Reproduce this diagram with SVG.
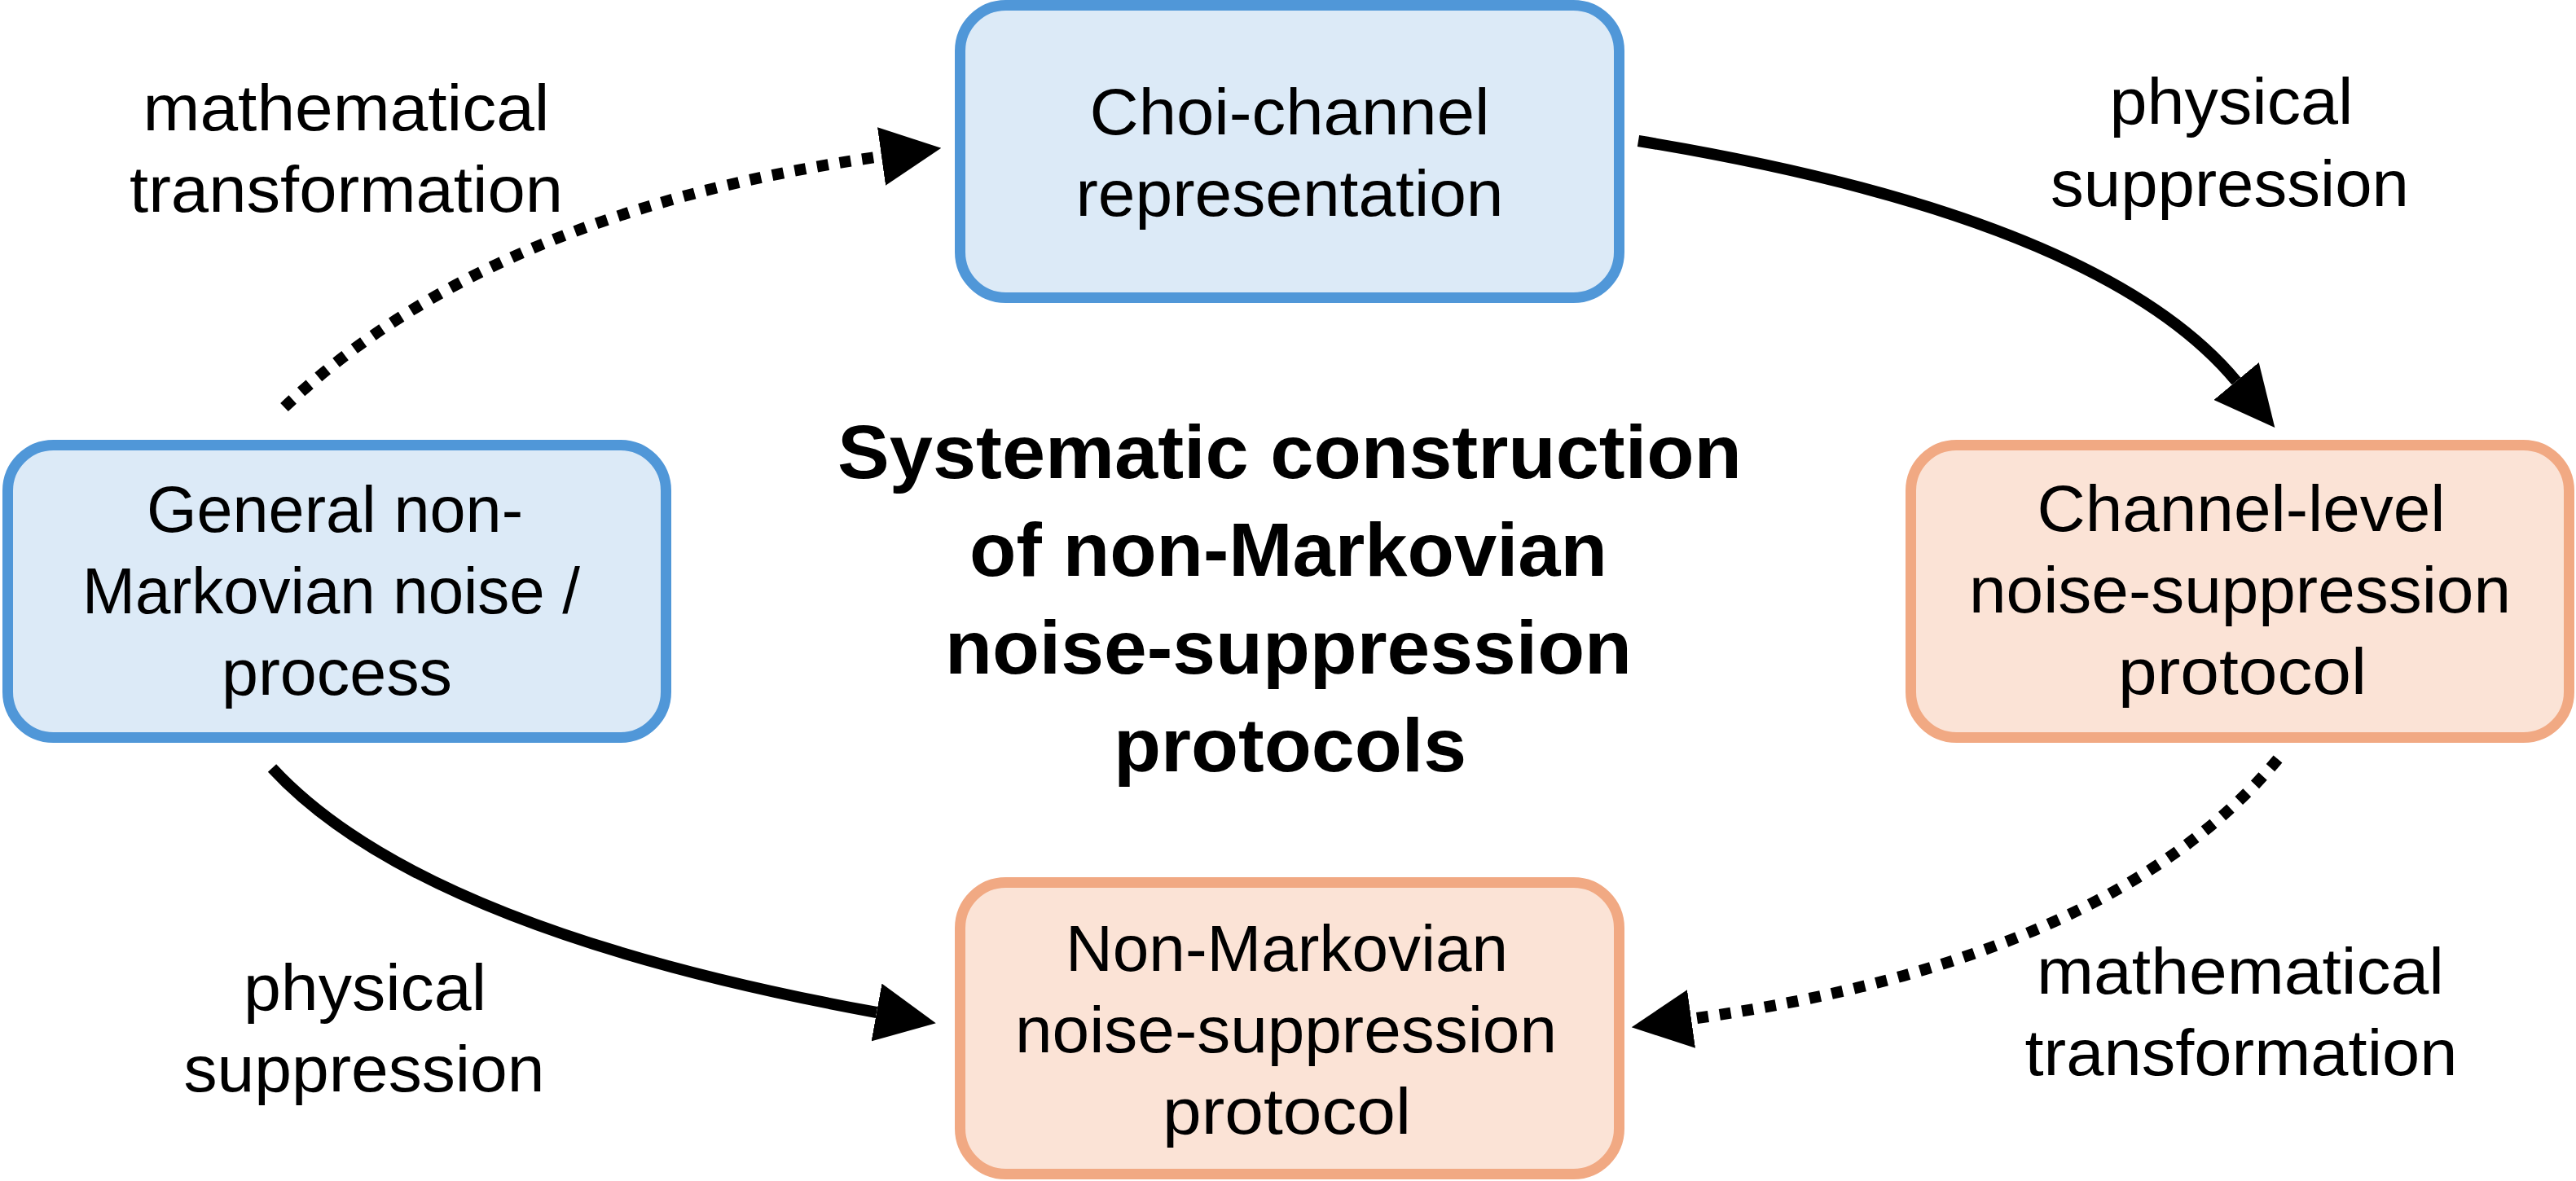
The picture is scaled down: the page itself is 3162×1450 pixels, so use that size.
<svg xmlns="http://www.w3.org/2000/svg" width="3162" height="1450" viewBox="0 0 3162 1450">
<style>
.t{font-family:"Liberation Sans",Arial,sans-serif;font-size:80px;fill:#000;text-anchor:middle}
.title{font-family:"Liberation Sans",Arial,sans-serif;font-size:92px;font-weight:bold;fill:#000;text-anchor:middle}
.blue{fill:#DCEAF7;stroke:#5097D8;stroke-width:13}
.orange{fill:#FBE3D6;stroke:#F1A983;stroke-width:13}
.conn{fill:none;stroke:#000;stroke-width:14;stroke-linecap:butt}
.dot{stroke-dasharray:14 14}
</style>
<defs>
<marker id="ah" viewBox="0 -36 74 72" refX="0" refY="0" markerWidth="74" markerHeight="72" markerUnits="userSpaceOnUse" orient="auto">
<path d="M0,-36 L74,0 L0,36 Z" fill="#000"/>
</marker>
</defs>
<rect width="3162" height="1450" fill="#fff"/>
<g id="connectors">
<path class="conn dot" d="M349,500 Q603,259 1082,192" marker-end="url(#ah)"/>
<path class="conn" d="M2011,173 Q2577,266 2745,468" marker-end="url(#ah)"/>
<path class="conn dot" d="M2796,932 Q2590,1179 2076,1251" marker-end="url(#ah)"/>
<path class="conn" d="M334,943 Q517,1141 1076,1243" marker-end="url(#ah)"/>
</g>
<g id="node-choi">
<rect class="blue" x="1178.5" y="6.5" width="809" height="359" rx="56"/>
<text class="t" x="1583" y="165" textLength="491" lengthAdjust="spacingAndGlyphs">Choi-channel</text>
<text class="t" x="1583" y="265" textLength="525" lengthAdjust="spacingAndGlyphs">representation</text>
</g>
<g id="node-general">
<rect class="blue" x="9.5" y="546.5" width="808" height="359" rx="56"/>
<text class="t" x="411" y="653" textLength="462" lengthAdjust="spacingAndGlyphs">General non-</text>
<text class="t" x="406.5" y="753" textLength="611" lengthAdjust="spacingAndGlyphs">Markovian noise /</text>
<text class="t" x="413.5" y="853" textLength="283" lengthAdjust="spacingAndGlyphs">process</text>
</g>
<g id="node-channel-level">
<rect class="orange" x="2345.5" y="546.5" width="808" height="359" rx="56"/>
<text class="t" x="2751" y="652" textLength="501" lengthAdjust="spacingAndGlyphs">Channel-level</text>
<text class="t" x="2749.5" y="752" textLength="665" lengthAdjust="spacingAndGlyphs">noise-suppression</text>
<text class="t" x="2752.5" y="852" textLength="305" lengthAdjust="spacingAndGlyphs">protocol</text>
</g>
<g id="node-nonmarkovian">
<rect class="orange" x="1178.5" y="1083.5" width="809" height="358" rx="56"/>
<text class="t" x="1579.5" y="1192" textLength="543" lengthAdjust="spacingAndGlyphs">Non-Markovian</text>
<text class="t" x="1578.5" y="1292" textLength="665" lengthAdjust="spacingAndGlyphs">noise-suppression</text>
<text class="t" x="1579.5" y="1392" textLength="305" lengthAdjust="spacingAndGlyphs">protocol</text>
</g>
<g id="title">
<text class="title" x="1583" y="587" textLength="1110" lengthAdjust="spacingAndGlyphs">Systematic construction</text>
<text class="title" x="1581.5" y="707" textLength="783" lengthAdjust="spacingAndGlyphs">of non-Markovian</text>
<text class="title" x="1581.5" y="827" textLength="843" lengthAdjust="spacingAndGlyphs">noise-suppression</text>
<text class="title" x="1583.5" y="947" textLength="433" lengthAdjust="spacingAndGlyphs">protocols</text>
</g>
<g id="labels">
<text class="t" x="425" y="160" textLength="499" lengthAdjust="spacingAndGlyphs">mathematical</text>
<text class="t" x="425" y="260" textLength="532" lengthAdjust="spacingAndGlyphs">transformation</text>
<text class="t" x="2739" y="152" textLength="299" lengthAdjust="spacingAndGlyphs">physical</text>
<text class="t" x="2737" y="253" textLength="440" lengthAdjust="spacingAndGlyphs">suppression</text>
<text class="t" x="448" y="1240" textLength="298" lengthAdjust="spacingAndGlyphs">physical</text>
<text class="t" x="447" y="1340" textLength="443" lengthAdjust="spacingAndGlyphs">suppression</text>
<text class="t" x="2750" y="1220" textLength="500" lengthAdjust="spacingAndGlyphs">mathematical</text>
<text class="t" x="2751" y="1320" textLength="531" lengthAdjust="spacingAndGlyphs">transformation</text>
</g>
</svg>
